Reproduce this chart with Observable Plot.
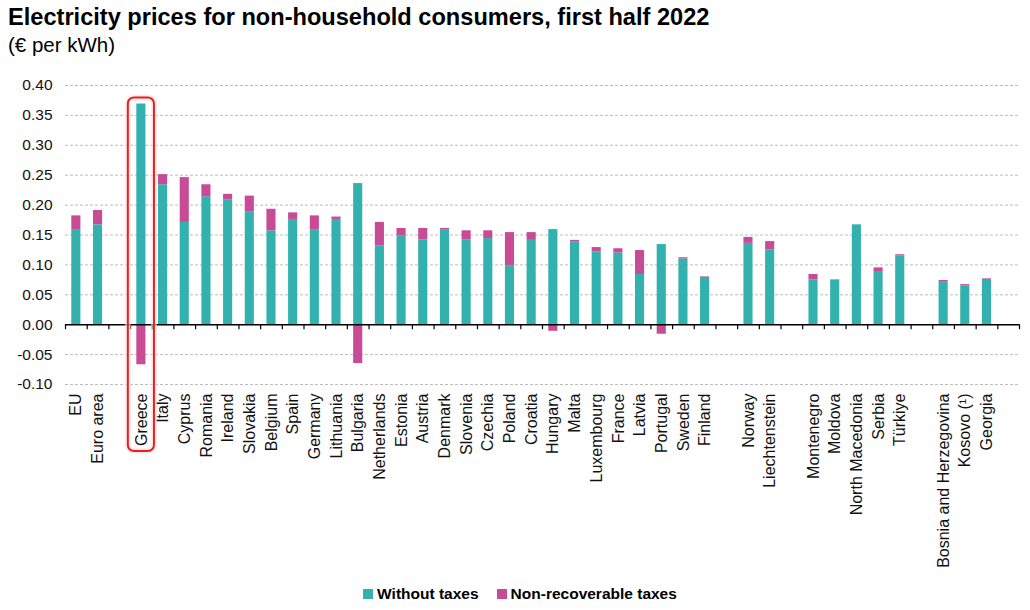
<!DOCTYPE html>
<html>
<head>
<meta charset="utf-8">
<script src="https://cdn.jsdelivr.net/npm/d3@7"></script>
<script src="https://cdn.jsdelivr.net/npm/@observablehq/plot@0.6"></script>
<style>
  html, body { margin: 0; padding: 0; background: #fff; }
  body { width: 1030px; height: 610px; position: relative; font-family: "Liberation Sans", Arial, sans-serif; color: #000; overflow: hidden; }
  #title { position: absolute; left: 8px; top: 4px; font-size: 23.6px; font-weight: bold; white-space: nowrap; }
  #subtitle { position: absolute; left: 8px; top: 33px; font-size: 20.5px; white-space: nowrap; }
  #chart { position: absolute; left: 0; top: 60px; }
  #legend { position: absolute; left: 0; width: 1040px; top: 585px; text-align: center; font-size: 15.5px; font-weight: bold; white-space: nowrap; }
  #legend span.sw { display: inline-block; width: 10px; height: 10px; margin-right: 4px; vertical-align: 0px; }
  #legend span.item { margin: 0 9px; }
</style>
</head>
<body>
<div id="title">Electricity prices for non-household consumers, first half 2022</div>
<div id="subtitle">(€ per kWh)</div>
<div id="chart"></div>
<div id="legend"></div>
<script>
// ---- data ----
const groups = [
  ["EU", "Euro area"],
  ["Greece", "Italy", "Cyprus", "Romania", "Ireland", "Slovakia", "Belgium", "Spain", "Germany", "Lithuania",
   "Bulgaria", "Netherlands", "Estonia", "Austria", "Denmark", "Slovenia", "Czechia", "Poland", "Croatia",
   "Hungary", "Malta", "Luxembourg", "France", "Latvia", "Portugal", "Sweden", "Finland"],
  ["Norway", "Liechtenstein"],
  ["Montenegro", "Moldova", "North Macedonia", "Serbia", "Türkiye"],
  ["Bosnia and Herzegovina", "Kosovo (¹)", "Georgia"]
];
const countries = groups.flat();
const withoutTaxes = [
  0.159, 0.167,
  0.369, 0.234, 0.171, 0.214, 0.209, 0.189, 0.157, 0.176, 0.159, 0.176,
  0.236, 0.132, 0.149, 0.142, 0.159, 0.142, 0.144, 0.098, 0.141,
  0.159, 0.138, 0.122, 0.120, 0.084, 0.134, 0.110, 0.079,
  0.136, 0.125,
  0.075, 0.075, 0.167, 0.089, 0.115,
  0.071, 0.065, 0.076
];
const nonRecoverableTaxes = [
  0.023, 0.024,
  -0.067, 0.017, 0.075, 0.020, 0.009, 0.026, 0.036, 0.011, 0.023, 0.004,
  -0.065, 0.039, 0.012, 0.019, 0.002, 0.015, 0.013, 0.056, 0.013,
  -0.011, 0.003, 0.007, 0.007, 0.040, -0.016, 0.002, 0.001,
  0.010, 0.014,
  0.009, 0.000, 0.000, 0.006, 0.002,
  0.003, 0.002, 0.001
];
const seriesNames = ["Without taxes", "Non-recoverable taxes"];
const seriesColors = ["#32b1af", "#c84b96"];
const yTicks = [-0.10, -0.05, 0.00, 0.05, 0.10, 0.15, 0.20, 0.25, 0.30, 0.35, 0.40];
const highlighted = "Greece";

// ---- build ----
const domain = [];
groups.forEach((g, i) => { domain.push(...g); domain.push("gap" + i); });
const isGap = d => /^gap\d$/.test(d);

const rows = [];
countries.forEach((c, i) => {
  rows.push({country: c, series: seriesNames[0], value: withoutTaxes[i]});
  rows.push({country: c, series: seriesNames[1], value: nonRecoverableTaxes[i]});
});

const W = 1030, mL = 65, mR = 11, mT = 25, mB = 185, H = 509;
const step = (W - mL - mR) / domain.length;
const pad = 0.58;
const hi = countries.indexOf(highlighted);
const hiTop = withoutTaxes[hi] + Math.max(0, nonRecoverableTaxes[hi]);

const plot = Plot.plot({
  width: W, height: H,
  marginLeft: mL, marginRight: mR, marginTop: mT, marginBottom: mB,
  style: {fontFamily: "'Liberation Sans', Arial, sans-serif", fontSize: "15px", color: "#000", background: "#fff"},
  x: {domain, paddingInner: pad, paddingOuter: pad / 2, round: false, label: null},
  y: {domain: [-0.10, 0.40], label: null},
  color: {domain: seriesNames, range: seriesColors},
  marks: [
    Plot.gridY(yTicks, {stroke: "#bdbdbd", strokeOpacity: 1, strokeDasharray: "3,2", strokeWidth: 1}),
    Plot.axisY(yTicks, {tickSize: 0, tickPadding: 13, tickFormat: d => d.toFixed(2), fontSize: 15.5, fill: "#111", label: null}),
    Plot.axisX({tickSize: 0, tickPadding: 9, tickRotate: -90, fontSize: 16, fill: "#111", label: null,
                tickFormat: d => isGap(d) ? "" : d}),
    Plot.barY(rows, {x: "country", y: "value", fill: "series", order: seriesNames}),
    Plot.ruleY([0], {stroke: "#000", strokeWidth: 1.5}),
    Plot.ruleX(domain, {x: d => d, y1: 0, y2: 0, insetBottom: -5, dx: -step / 2, stroke: "#000", strokeWidth: 1.2}),
    Plot.ruleX(domain.slice(-1), {x: d => d, y1: 0, y2: 0, insetBottom: -5, dx: step / 2, stroke: "#000", strokeWidth: 1.2}),
    Plot.barY([highlighted], {x: d => d, y1: -0.10, y2: hiTop, fill: "none", stroke: "#ffe0e0", strokeWidth: 6,
      insetTop: -6, insetBottom: -67, insetLeft: -8.5, insetRight: -8.5, rx: 6, strokeOpacity: 0.6}),
    Plot.barY([highlighted], {x: d => d, y1: -0.10, y2: hiTop, fill: "none", stroke: "#ee1c1c", strokeWidth: 2,
      insetTop: -6, insetBottom: -67, insetLeft: -8.5, insetRight: -8.5, rx: 6})
  ]
});
document.getElementById("chart").appendChild(plot);

const legend = document.getElementById("legend");
seriesNames.forEach((n, i) => {
  const item = document.createElement("span");
  item.className = "item";
  const sw = document.createElement("span");
  sw.className = "sw";
  sw.style.background = seriesColors[i];
  item.appendChild(sw);
  item.appendChild(document.createTextNode(n));
  legend.appendChild(item);
});
</script>
</body>
</html>
